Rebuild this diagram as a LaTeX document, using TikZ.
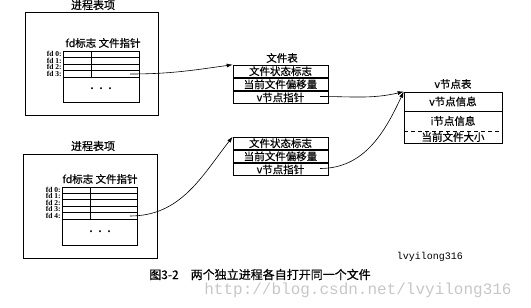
\documentclass[tikz,border=0pt]{standalone}
\usepackage{fontspec}
\setmainfont{Noto Sans CJK SC}[FakeBold=0.5]
\newfontfamily\fdfont{Liberation Serif}
\newfontfamily\markfont{Liberation Mono}
\usetikzlibrary{arrows.meta}

\begin{document}
\begin{tikzpicture}[x=1pt, y=-1pt, line width=0.6pt,
    every node/.style={font=\fontsize{10.5}{12}\selectfont, inner sep=0pt},
    row/.style={draw, minimum width=95pt, minimum height=12.5pt},
    fdlabel/.style={anchor=east, font=\fdfont\bfseries\fontsize{7.5}{8}\selectfont},
    ptr/.style={-{Latex[length=6pt,width=4pt]}}]
  \useasboundingbox (0,0) rectangle (531,308);
  % first process table entry
  \node[font=\fontsize{11}{12}\selectfont] (ptitle1) at (93,5) {进程表项};
  \node[draw, minimum width=133pt, minimum height=103pt] (proc1) at (91.5,63.5) {};
  \node (phead1) at (103,43) {fd标志 文件指针};
  \draw (63,51) rectangle (139,102);
  \foreach \y in {57,64,70,77} \draw (63,\y) -- (139,\y);
  \draw (91,51) -- (91,77);
  \foreach \i/\y in {0/54,1/60.5,2/67,3/73.5}
    \node[fdlabel] (fda\i) at (62,\y) {fd \i:};
  \node[font=\fdfont\bfseries\fontsize{12}{12}\selectfont] (dots1) at (101,89) {.\hspace{6pt}.\hspace{6pt}.};
  \coordinate (fp1) at (130,74);
  % second process table entry
  \node[font=\fontsize{11}{12}\selectfont] (ptitle2) at (93,146) {进程表项};
  \node[draw, minimum width=134pt, minimum height=104pt] (proc2) at (90,206) {};
  \node (phead2) at (100,179) {fd标志 文件指针};
  \draw (62,187) rectangle (137,245);
  \foreach \y in {193,199,206,212,219} \draw (62,\y) -- (137,\y);
  \draw (90,187) -- (90,219);
  \foreach \i/\y in {0/190,1/196.3,2/202.6,3/208.9,4/215.5}
    \node[fdlabel] (fdb\i) at (61,\y) {fd \i:};
  \node[font=\fdfont\bfseries\fontsize{12}{12}\selectfont] (dots2) at (100,232) {.\hspace{6pt}.\hspace{6pt}.};
  \coordinate (fp2) at (130,216);
  % file tables
  \node (ftitle) at (282,58) {文件表};
  \node[row] (fta1) at (280.5,71.25) {文件状态标志};
  \node[row, anchor=north] (fta2) at (fta1.south) {当前文件偏移量};
  \node[row, anchor=north] (fta3) at (fta2.south) {v节点指针};
  \node[row] (ftb1) at (280.5,143.25) {文件状态标志};
  \node[row, anchor=north] (ftb2) at (ftb1.south) {当前文件偏移量};
  \node[row, anchor=north] (ftb3) at (ftb2.south) {v节点指针};
  \coordinate (vp1) at (320,96.5);
  \coordinate (vp2) at (320,168.5);
  % v-node table
  \node (vtitle) at (453,84) {v节点表};
  \node[draw, minimum width=98pt, minimum height=51pt] (vtab) at (453,117.5) {};
  \node (vinfo) at (453,101.5) {v节点信息};
  \node (iinfo) at (453,121) {i节点信息};
  \node (fsize) at (453,137) {当前文件大小};
  \draw (404,111) -- (502,111);
  \draw[dash pattern=on 4pt off 3pt] (404,131) -- (502,131);
  % pointers
  \draw[ptr] (fp1) to[out=0, in=188] (fta1.north west);
  \draw[ptr] (fp2) to[out=0, in=232] (ftb1.north west);
  \draw[ptr] (vp1) to[out=0, in=193] (vtab.north west);
  \draw[ptr] (vp2) to[out=0, in=245] (vtab.north west);
  % caption and marks
  \node[font=\fontsize{12}{14}\selectfont] (caption) at (260,274.5) {图3-2\quad 两个独立进程各自打开同一个文件};
  \node[font=\markfont\fontsize{16}{18}\selectfont, text=black!22] (wmark) at (358,290) {http://blog.csdn.net/lvyilong316};
  \node[font=\markfont\fontsize{10}{12}\selectfont] (sign) at (430,257) {lvyilong316};
\end{tikzpicture}
\end{document}
